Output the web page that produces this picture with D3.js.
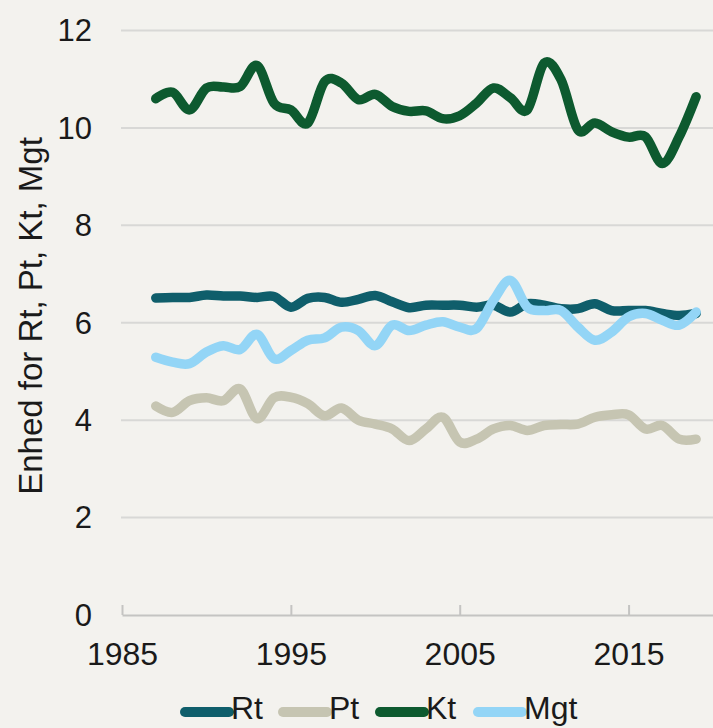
<!DOCTYPE html>
<html>
<head>
<meta charset="utf-8">
<script src="https://cdn.jsdelivr.net/npm/d3@7/dist/d3.min.js"></script>
<style>
  html, body { margin: 0; padding: 0; background: #f3f2ee; }
  svg { display: block; }
  text { font-family: "Liberation Sans", Arial, sans-serif; fill: #1a1a1a; }
</style>
</head>
<body>
<svg id="chart" width="713" height="728"></svg>
<script>
const years = d3.range(1987, 2020);
const rt  = [6.51,6.52,6.52,6.57,6.55,6.55,6.52,6.54,6.32,6.50,6.52,6.42,6.48,6.56,6.43,6.31,
             6.36,6.36,6.36,6.32,6.36,6.22,6.39,6.36,6.29,6.29,6.39,6.25,6.25,6.25,6.19,6.15,6.19];
const pt  = [4.29,4.16,4.40,4.46,4.40,4.64,4.03,4.46,4.47,4.34,4.09,4.25,4.00,3.92,3.82,3.58,
             3.82,4.06,3.55,3.61,3.82,3.89,3.79,3.89,3.91,3.92,4.06,4.11,4.11,3.82,3.89,3.61,3.61];
const kt  = [10.60,10.73,10.37,10.82,10.84,10.85,11.28,10.51,10.37,10.10,10.95,10.92,10.58,10.69,10.44,10.34,
             10.35,10.19,10.25,10.51,10.82,10.62,10.37,11.33,10.99,9.96,10.10,9.92,9.81,9.82,9.27,9.82,10.64];
const mgt = [5.29,5.19,5.16,5.40,5.53,5.45,5.76,5.26,5.43,5.64,5.69,5.91,5.84,5.53,5.95,5.84,
             5.95,6.02,5.91,5.88,6.46,6.87,6.32,6.25,6.25,5.91,5.64,5.81,6.12,6.19,6.05,5.95,6.22];
const seriesNames = ["Rt", "Pt", "Kt", "Mgt"];
const seriesValues = [rt, pt, kt, mgt];
const seriesColors = ["#0f5e6b", "#c6c5b2", "#0d5a2f", "#93d5f6"];
const yTicks = [0, 2, 4, 6, 8, 10, 12];
const xTicks = [1985, 1995, 2005, 2015];
const yTitle = "Enhed for Rt, Pt, Kt, Mgt";

const svg = d3.select("#chart");
const x = d3.scaleLinear().domain([1985, 2020]).range([122, 713]);
const y = d3.scaleLinear().domain([0, 12]).range([615, 30.5]);

// gridlines
svg.append("g").selectAll("line").data(yTicks.filter(d => d > 0)).join("line")
  .attr("x1", 121).attr("x2", 713)
  .attr("y1", d => y(d)).attr("y2", d => y(d))
  .attr("stroke", "#d8d8d6").attr("stroke-width", 2);

// y labels
svg.append("g").selectAll("text").data(yTicks).join("text")
  .attr("x", 92).attr("y", d => y(d)).attr("dy", "0.35em")
  .attr("text-anchor", "end").style("font-size", "31px").text(d => d);

// x axis
const xAxis = d3.axisBottom(x).tickValues(xTicks).tickSize(0).tickFormat(d3.format("d"));
const gx = svg.append("g").attr("transform", `translate(0,${y(0)})`).call(xAxis);
gx.select(".domain").attr("stroke", "#c4c4c2").attr("stroke-width", 2);
gx.selectAll(".tick text").style("font-size", "32px").attr("y", 27).attr("dy", "0.71em")
  .style("font-family", '"Liberation Sans", Arial, sans-serif').attr("fill", "#1a1a1a");
gx.selectAll(".tick").append("line").attr("y1", 0).attr("y2", -10)
  .attr("stroke", "#c4c4c2").attr("stroke-width", 2);

// y title
svg.append("text")
  .attr("transform", `translate(42,316) rotate(-90)`)
  .attr("text-anchor", "middle").style("font-size", "33px").text(yTitle);

// lines
const line = d3.line().x(d => x(d[0])).y(d => y(d[1])).curve(d3.curveCardinal.tension(0));
seriesValues.forEach((vals, i) => {
  svg.append("path")
    .datum(years.map((yr, j) => [yr, vals[j]]))
    .attr("d", line)
    .attr("fill", "none")
    .attr("stroke", seriesColors[i])
    .attr("stroke-width", 9.5)
    .attr("stroke-linecap", "round")
    .attr("stroke-linejoin", "round");
});

// legend
const legendX = [180, 278, 375, 473];
const lg = svg.append("g");
seriesNames.forEach((name, i) => {
  lg.append("line").attr("x1", legendX[i] + 5).attr("x2", legendX[i] + 49)
    .attr("y1", 712).attr("y2", 712)
    .attr("stroke", seriesColors[i]).attr("stroke-width", 10).attr("stroke-linecap", "round");
  lg.append("text").attr("x", legendX[i] + 51).attr("y", 719)
    .style("font-size", "32px").text(name);
});
</script>
</body>
</html>
